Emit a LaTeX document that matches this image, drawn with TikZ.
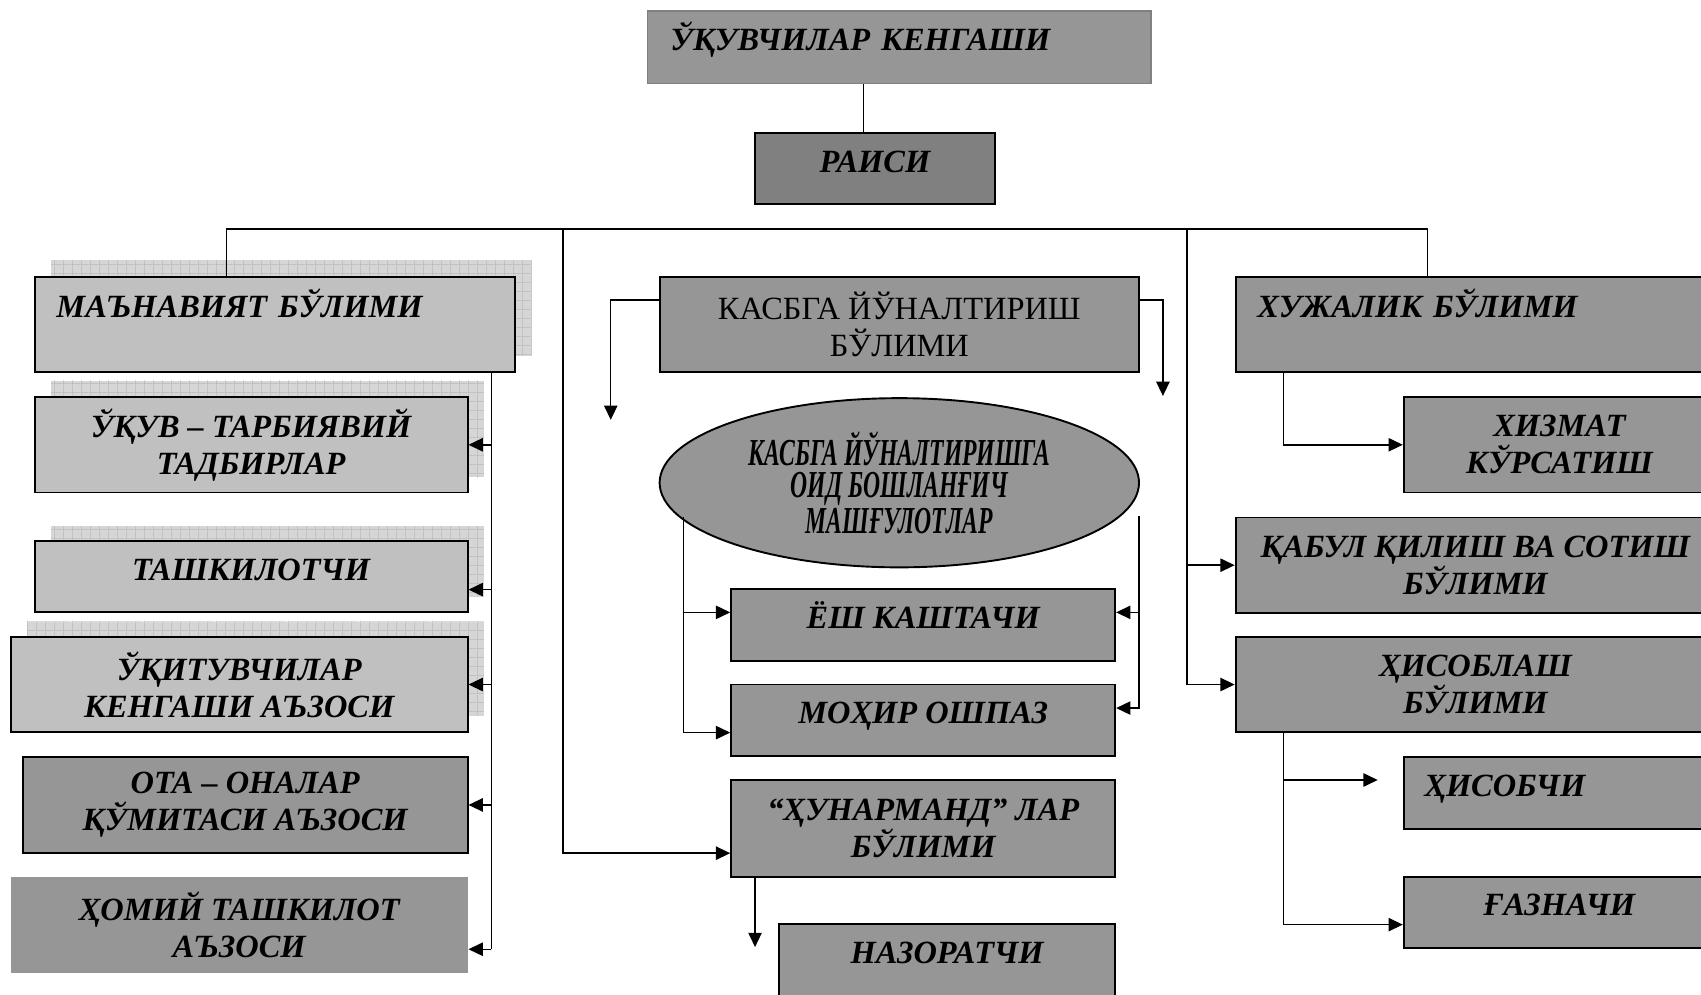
\documentclass[tikz,border=0pt]{standalone}
\usepackage{fontspec}
\setmainfont{Liberation Serif}
\usetikzlibrary{arrows.meta,shapes.geometric,calc,patterns}
\definecolor{lgray}{HTML}{C0C0C0}
\definecolor{dgray}{HTML}{969696}
\definecolor{rgray}{HTML}{808080}
\definecolor{sgrid}{HTML}{A0A0A0}
\definecolor{sfill}{HTML}{D6D6D6}
\pgfdeclarepatternformonly{mygrid}{\pgfpointorigin}{\pgfpoint{4.8pt}{4.8pt}}{\pgfpoint{4.8pt}{4.8pt}}{%
  \pgfsetlinewidth{0.45pt}%
  \pgfpathmoveto{\pgfpoint{0pt}{0pt}}\pgfpathlineto{\pgfpoint{4.8pt}{0pt}}%
  \pgfpathmoveto{\pgfpoint{0pt}{0pt}}\pgfpathlineto{\pgfpoint{0pt}{4.8pt}}%
  \pgfusepath{stroke}}
\newcommand\bxfont{\fontsize{17}{19.3}\selectfont\bfseries\itshape}
\newcommand\mkbox[7]{%
  \pgfmathsetmacro\bw{(#4-#2)*0.02}%
  \pgfmathsetmacro\bh{(#5-#3)*0.02}%
  \node[#6, minimum width=\bw cm, minimum height=\bh cm] (#1) at ({(#2+#4)/2},{(#3+#5)/2}) {#7};}
\newcommand\mkshadow[4]{\fill[shadowbox] (#1,#2) rectangle (#3,#4);}
\newcommand\sq[1]{\scalebox{0.62}[1]{#1}}
\tikzset{
  box/.style={draw, line width=1pt, inner sep=0pt, align=center, font=\bxfont},
  lightbox/.style={box, fill=lgray},
  darkbox/.style={box, fill=dgray},
  oneline/.style={text height=12pt, text depth=8.2pt},
  shadowbox/.style={fill=sfill, postaction={pattern=mygrid, pattern color=sgrid}},
  conn/.style={line width=0.75pt},
  arr/.style={conn, -{Triangle[length=7.5pt,width=7pt]}},
}
\begin{document}
\begin{tikzpicture}[x=0.02cm, y=-0.02cm]
\useasboundingbox (0,0) rectangle (1568,917);
\clip (0,0) rectangle (1568,917);
\fill[white] (0,0) rectangle (1568,917);

% top
\mkbox{top}{597}{10}{1061}{77}{box, oneline, fill=dgray, draw=rgray, line width=0.8pt, align=left, text width=8.44cm}{ЎҚУВЧИЛАР КЕНГАШИ}
\mkbox{rais}{696}{123}{917}{188}{box, oneline, fill=rgray}{РАИСИ}

% left column
\mkshadow{47}{240}{490}{328}
\mkbox{manav}{32}{255}{475}{343}{lightbox, align=left, text width=8.06cm}{МАЪНАВИЯТ БЎЛИМИ\\[3pt]\mbox{}}
\mkshadow{47}{351}{446}{440}
\mkbox{ukuv}{32}{366}{431}{454}{lightbox}{ЎҚУВ – ТАРБИЯВИЙ\\ТАДБИРЛАР}
\mkshadow{47}{485}{446}{550}
\mkbox{tash}{32}{499}{431}{564}{lightbox, oneline}{ТАШКИЛОТЧИ}
\mkshadow{25}{573}{446}{660}
\mkbox{ukit}{10}{587}{431}{675}{lightbox}{ЎҚИТУВЧИЛАР\\КЕНГАШИ АЪЗОСИ}
\mkbox{ota}{21}{698}{431}{786}{darkbox}{ОТА – ОНАЛАР\\ҚЎМИТАСИ АЪЗОСИ}
\mkbox{homiy}{10}{808}{431}{897}{darkbox, draw=none}{ҲОМИЙ ТАШКИЛОТ\\АЪЗОСИ}

% middle column
\mkbox{kasb}{608}{255}{1050}{343}{darkbox, font=\fontsize{17}{19.3}\selectfont}{КАСБГА ЙЎНАЛТИРИШ\\БЎЛИМИ}
\node[ellipse, draw, line width=1pt, fill=dgray, minimum width=8.84cm, minimum height=3.12cm, inner sep=0pt, align=center,
  font=\fontsize{20}{17}\selectfont\bfseries\itshape] (ell) at (829,445)
  {\sq{КАСБГА ЙЎНАЛТИРИШГА}\\\sq{ОИД БОШЛАНҒИЧ}\\\sq{МАШҒУЛОТЛАР}};
\mkbox{kash}{674}{543}{1028}{609}{darkbox, oneline}{ЁШ КАШТАЧИ}
\mkbox{mohir}{674}{631}{1028}{697}{darkbox, oneline}{МОҲИР ОШПАЗ}
\mkbox{hunar}{674}{719}{1028}{808}{darkbox}{“ҲУНАРМАНД” ЛАР\\БЎЛИМИ}
\mkbox{nazor}{718}{852}{1028}{918}{darkbox, oneline}{НАЗОРАТЧИ}

% right column
\mkbox{hujal}{1139}{255}{1581}{343}{darkbox, align=left, text width=8.04cm}{ХУЖАЛИК БЎЛИМИ\\[3pt]\mbox{}}
\mkbox{hizmat}{1294}{366}{1581}{454}{darkbox}{ХИЗМАТ\\КЎРСАТИШ}
\mkbox{kabul}{1139}{477}{1581}{565}{darkbox}{ҚАБУЛ ҚИЛИШ ВА СОТИШ\\БЎЛИМИ}
\mkbox{hisob}{1139}{587}{1581}{675}{darkbox}{ҲИСОБЛАШ\\БЎЛИМИ}
\mkbox{hisobchi}{1294}{698}{1581}{764}{darkbox, oneline, align=left, text width=4.98cm}{ҲИСОБЧИ}
\mkbox{gaz}{1294}{808}{1581}{874}{darkbox, oneline}{ҒАЗНАЧИ}

% helper coordinates
\coordinate (cx) at (796,0);
\coordinate (busL) at (209,211);
\coordinate (busB) at (519,211);
\coordinate (busC) at (1094,211);
\coordinate (busR) at (1316,211);
\coordinate (lt) at (453,875);
\coordinate (kl) at (563,387);
\coordinate (kr) at (1072,365);
\coordinate (elb) at (630,477);
\coordinate (erb) at (1050,476);
\coordinate (hn) at (696,873);
\coordinate (xr) at (1183,852);
\coordinate (hc) at (1270,719);

% top connectors
\draw[conn, line width=0.6pt] (top.south -| cx) -- (rais.north -| cx);
\draw[conn] (busL |- manav.north) -- (busL) -- (busR) -- (busR |- hujal.north);

% left trunk
\draw[conn] (manav.south -| lt) -- (lt);
\draw[arr] (lt |- ukuv.east) -- (ukuv.east);
\draw[arr] (lt |- {$(tash.north east)!0.68!(tash.south east)$}) -- ($(tash.north east)!0.68!(tash.south east)$);
\draw[arr] (lt |- ukit.east) -- (ukit.east);
\draw[arr] (lt |- ota.east) -- (ota.east);
\draw[arr] (lt) -- (lt -| homiy.east);

% middle
\draw[arr] (busB) |- ($(hunar.north west)!0.753!(hunar.south west)$);
\draw[arr] ($(kasb.north west)!0.25!(kasb.south west)$) -| (kl);
\draw[arr] ($(kasb.north east)!0.25!(kasb.south east)$) -| (kr);
\draw[arr] (elb) |- ($(kash.north west)!0.33!(kash.south west)$);
\draw[arr] (elb) |- ($(mohir.north west)!0.667!(mohir.south west)$);
\draw[arr] (erb) |- ($(kash.north east)!0.33!(kash.south east)$);
\draw[arr] (erb) |- ($(mohir.north east)!0.333!(mohir.south east)$);
\draw[arr] (hunar.south -| hn) -- (hn);

% right
\draw[arr] (busC) |- (kabul.west);
\draw[arr] (busC) |- (hisob.west);
\draw[arr] (hujal.south -| xr) |- (hizmat.west);
\draw[arr] (hisob.south -| xr) |- ($(gaz.north west)!0.667!(gaz.south west)$);
\draw[arr] (hisob.south -| xr) |- (hc);
\end{tikzpicture}
\end{document}
